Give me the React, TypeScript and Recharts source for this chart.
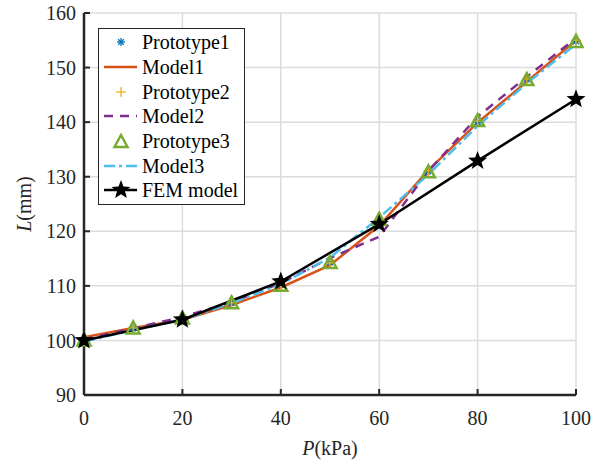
import React from 'react'
import { LineChart, Line, XAxis, YAxis, CartesianGrid, Legend } from 'recharts'

// pressure steps (kPa)
const pressure = [0, 10, 20, 30, 40, 50, 60, 70, 80, 90, 100]
const prototype1 = [100, 102.2, 104.1, 106.8, 110.2, 114.3, 121.8, 131.0, 140.0, 147.8, 154.8]
const model1 = [100.6, 102.3, 103.8, 106.5, 109.7, 113.8, 121.0, 131.2, 139.9, 147.4, 155.0]
const prototype2 = [100, 102.3, 104.2, 106.9, 110.0, 114.2, 122.0, 131.1, 140.2, 147.9, 155.0]
const model2 = [100.2, 102.2, 104.3, 107.0, 110.5, 115.1, 119.0, 131.0, 141.0, 148.3, 155.4]
const prototype3 = [100, 102.2, 104.0, 106.8, 110.0, 114.2, 122.1, 130.8, 140.2, 147.7, 154.7]
const model3 = [99.8, 101.9, 103.8, 106.8, 110.3, 115.2, 122.5, 130.4, 139.3, 147.1, 154.3]
// FEM only computed every 20 kPa
const femPressure = [0, 20, 40, 60, 80, 100]
const fem = [100, 103.8, 110.8, 121.3, 132.9, 144.2]

const xTicks = [0, 20, 40, 60, 80, 100]
const yTicks = [90, 100, 110, 120, 130, 140, 150, 160]

const data = pressure.map((p, i) => {
  const j = femPressure.indexOf(p)
  return {
    p,
    prototype1: prototype1[i],
    model1: model1[i],
    prototype2: prototype2[i],
    model2: model2[i],
    prototype3: prototype3[i],
    model3: model3[i],
    fem: j >= 0 ? fem[j] : null,
  }
})

const AXIS = '#262626'
const FONT = 'Liberation Serif, DejaVu Serif, serif'
const DASH2 = '9 7'
const DASH3 = '11 4 3 4'

const starPoints = (cx: number, cy: number, r: number) => {
  const pts: string[] = []
  for (let k = 0; k < 10; k++) {
    const rr = k % 2 === 0 ? r : r * 0.42
    const a = -Math.PI / 2 + (k * Math.PI) / 5
    pts.push(`${cx + rr * Math.cos(a)},${cy + rr * Math.sin(a)}`)
  }
  return pts.join(' ')
}

const Asterisk = ({ cx, cy, color }: any) => {
  const r = 4
  const d = r * 0.7
  return (
    <g stroke={color} strokeWidth={1.3}>
      <line x1={cx - r} y1={cy} x2={cx + r} y2={cy} />
      <line x1={cx} y1={cy - r} x2={cx} y2={cy + r} />
      <line x1={cx - d} y1={cy - d} x2={cx + d} y2={cy + d} />
      <line x1={cx - d} y1={cy + d} x2={cx + d} y2={cy - d} />
    </g>
  )
}

const Plus = ({ cx, cy, color }: any) => (
  <g stroke={color} strokeWidth={1.3}>
    <line x1={cx - 5} y1={cy} x2={cx + 5} y2={cy} />
    <line x1={cx} y1={cy - 5} x2={cx} y2={cy + 5} />
  </g>
)

const Triangle = ({ cx, cy, color }: any) => (
  <polygon
    points={`${cx},${cy - 7} ${cx - 6.5},${cy + 5} ${cx + 6.5},${cy + 5}`}
    fill="none"
    stroke={color}
    strokeWidth={2.5}
  />
)

const Star = ({ cx, cy }: any) => <polygon points={starPoints(cx, cy, 10)} fill="#000" />

const dotFor = (Shape: any, color: string) => (props: any) => {
  if (props.cx == null || props.cy == null || props.value == null) return <g key={props.index} />
  return <Shape key={props.index} cx={props.cx} cy={props.cy} color={color} />
}

const legendRows = [
  { name: 'Prototype1', icon: <Asterisk cx={20} cy={12} color="#0072BD" /> },
  { name: 'Model1', icon: <line x1={3} y1={12} x2={36} y2={12} stroke="#D95319" strokeWidth={2.5} /> },
  { name: 'Prototype2', icon: <Plus cx={20} cy={12} color="#EDB120" /> },
  { name: 'Model2', icon: <line x1={3} y1={12} x2={36} y2={12} stroke="#7E2F8E" strokeWidth={2.5} strokeDasharray={DASH2} /> },
  { name: 'Prototype3', icon: <Triangle cx={20} cy={13} color="#77AC30" /> },
  { name: 'Model3', icon: <line x1={3} y1={12} x2={36} y2={12} stroke="#4DBEEE" strokeWidth={2.5} strokeDasharray={DASH3} /> },
  {
    name: 'FEM model',
    icon: (
      <g>
        <line x1={3} y1={12} x2={36} y2={12} stroke="#000" strokeWidth={2.5} />
        <polygon points={starPoints(20, 12, 10)} fill="#000" />
      </g>
    ),
  },
]

const LegendBox = () => (
  <div
    style={{
      border: `1.5px solid ${AXIS}`,
      background: '#fff',
      padding: '1px 6px 1px 2px',
      fontFamily: FONT,
      fontSize: 20,
      color: '#000',
      lineHeight: 1,
    }}
  >
    {legendRows.map((r) => (
      <div key={r.name} style={{ display: 'flex', alignItems: 'center', height: 24.7 }}>
        <svg width={40} height={24} style={{ marginRight: 1 }}>
          {r.icon}
        </svg>
        <span>{r.name}</span>
      </div>
    ))}
  </div>
)

const XLabel = ({ viewBox }: any) => (
  <text x={viewBox.x + viewBox.width / 2} y={455} textAnchor="middle" fill={AXIS} fontSize={20} fontFamily={FONT}>
    <tspan fontStyle="italic">P</tspan>(kPa)
  </text>
)

const YLabel = () => (
  <text x={31} y={204} textAnchor="middle" fill={AXIS} fontSize={20} fontFamily={FONT} transform="rotate(-90 31 204)">
    <tspan fontStyle="italic">L</tspan>(mm)
  </text>
)

const tickStyle = { fill: AXIS, fontSize: 20, fontFamily: FONT }

export default function App() {
  return (
    <div style={{ position: 'absolute', left: 0, top: 0, width: 603, height: 463, background: '#fff' }}>
      <LineChart width={603} height={463} data={data} margin={{ top: 13, right: 27, left: 0, bottom: 0 }}>
        <CartesianGrid stroke="#dcdcdc" strokeWidth={1.5} />
        <XAxis
          dataKey="p"
          type="number"
          domain={[0, 100]}
          ticks={xTicks}
          height={68}
          tick={tickStyle}
          tickSize={-6}
          tickMargin={22}
          tickLine={{ stroke: AXIS, strokeWidth: 2 }}
          axisLine={{ stroke: AXIS, strokeWidth: 2.5 }}
          label={<XLabel />}
        />
        <XAxis
          xAxisId="top"
          orientation="top"
          dataKey="p"
          type="number"
          domain={[0, 100]}
          ticks={xTicks}
          height={0}
          tick={false}
          tickSize={-6}
          tickLine={{ stroke: AXIS, strokeWidth: 2 }}
          axisLine={{ stroke: AXIS, strokeWidth: 2.5 }}
        />
        <YAxis
          type="number"
          domain={[90, 160]}
          ticks={yTicks}
          width={84}
          tick={tickStyle}
          tickSize={-6}
          tickMargin={14}
          tickLine={{ stroke: AXIS, strokeWidth: 2 }}
          axisLine={{ stroke: AXIS, strokeWidth: 2.5 }}
          label={<YLabel />}
        />
        <YAxis
          yAxisId="right"
          orientation="right"
          type="number"
          domain={[90, 160]}
          ticks={yTicks}
          width={0}
          tick={false}
          tickSize={-6}
          tickLine={{ stroke: AXIS, strokeWidth: 2 }}
          axisLine={{ stroke: AXIS, strokeWidth: 2.5 }}
        />
        <Legend
          layout="horizontal"
          align="center"
          verticalAlign="middle"
          content={<LegendBox />}
          wrapperStyle={{ position: 'absolute', left: 98, top: 28, width: 'auto' }}
        />
        <Line dataKey="prototype1" stroke="none" dot={dotFor(Asterisk, '#0072BD')} activeDot={false} isAnimationActive={false} />
        <Line dataKey="model1" stroke="#D95319" strokeWidth={2.5} dot={false} activeDot={false} isAnimationActive={false} />
        <Line dataKey="prototype2" stroke="none" dot={dotFor(Plus, '#EDB120')} activeDot={false} isAnimationActive={false} />
        <Line dataKey="model2" stroke="#7E2F8E" strokeWidth={2.5} strokeDasharray={DASH2} dot={false} activeDot={false} isAnimationActive={false} />
        <Line dataKey="prototype3" stroke="none" dot={dotFor(Triangle, '#77AC30')} activeDot={false} isAnimationActive={false} />
        <Line dataKey="model3" stroke="#4DBEEE" strokeWidth={2.5} strokeDasharray={DASH3} dot={false} activeDot={false} isAnimationActive={false} />
        <Line dataKey="fem" stroke="#000" strokeWidth={2.5} connectNulls dot={dotFor(Star, '#000')} activeDot={false} isAnimationActive={false} />
      </LineChart>
    </div>
  )
}
